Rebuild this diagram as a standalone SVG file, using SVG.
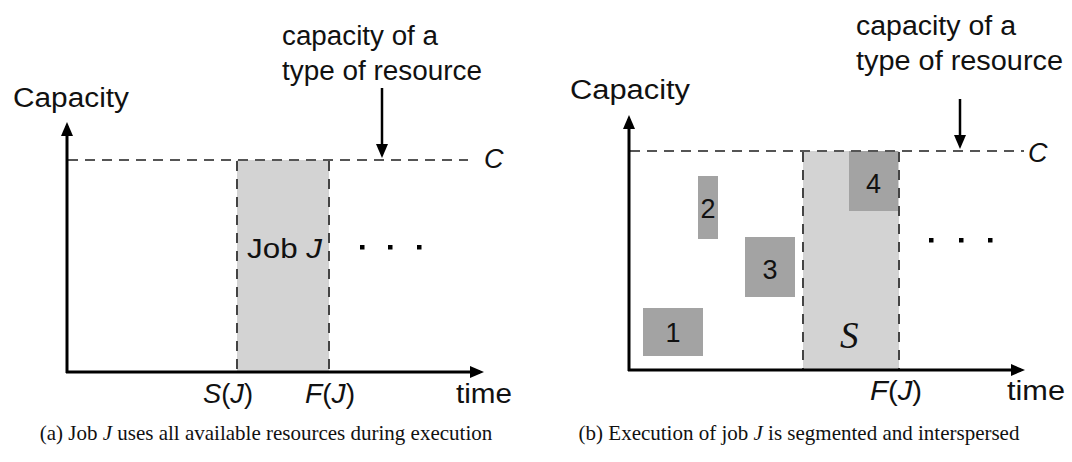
<svg xmlns="http://www.w3.org/2000/svg" width="1072" height="462" viewBox="0 0 1072 462">
  <style>
    .lbl { font-family: "Liberation Sans", Arial, sans-serif; font-size: 27px; fill: #111; }
    .it { font-style: italic; }
    .num { font-family: "Liberation Sans", Arial, sans-serif; font-size: 27px; fill: #111; text-anchor: middle; }
    .cap { font-family: "Liberation Serif", "Times New Roman", serif; font-size: 21px; fill: #111; text-anchor: middle; }
    .axis { stroke: #000; stroke-width: 3; fill: none; }
    .ptr { stroke: #000; stroke-width: 2.5; fill: none; }
    .limit { stroke: #555; stroke-width: 2; stroke-dasharray: 10 7; fill: none; }
    .edge { stroke: #444; stroke-width: 2; stroke-dasharray: 10 8; fill: none; }
    .job { fill: #d3d3d3; }
    .seg { fill: #a3a3a3; }
    .dot { fill: #000; }
  </style>
  <defs>
    <marker id="arr" markerWidth="14" markerHeight="12" refX="10" refY="6" orient="auto" markerUnits="userSpaceOnUse">
      <path d="M0,0 L14,6 L0,12 Z" fill="#000"/>
    </marker>
  </defs>

  <!-- Panel (a): job occupies the full capacity -->
  <g id="panel-a">
    <g id="a-job">
      <rect class="job" x="237" y="160" width="92" height="212"/>
      <line class="edge" x1="237" y1="161" x2="237" y2="372"/>
      <line class="edge" x1="329" y1="161" x2="329" y2="372"/>
      <text class="lbl" x="247" y="258" textLength="75" lengthAdjust="spacingAndGlyphs">Job <tspan class="it">J</tspan></text>
    </g>
    <g id="a-connectors">
      <line class="limit" x1="68" y1="160" x2="468" y2="160"/>
      <line class="axis" x1="67" y1="373" x2="67" y2="126" marker-end="url(#arr)"/>
      <line class="axis" x1="66" y1="372" x2="480" y2="372" marker-end="url(#arr)"/>
      <line class="ptr" x1="382" y1="88" x2="382" y2="154" marker-end="url(#arr)"/>
    </g>
    <g id="a-labels">
      <text class="lbl" x="13" y="107" textLength="116" lengthAdjust="spacingAndGlyphs">Capacity</text>
      <text class="lbl" x="282" y="45" textLength="156" lengthAdjust="spacingAndGlyphs">capacity of a</text>
      <text class="lbl" x="282" y="80" textLength="200" lengthAdjust="spacingAndGlyphs">type of resource</text>
      <text class="lbl it" x="484" y="168">C</text>
      <text class="lbl" x="203" y="403" textLength="50" lengthAdjust="spacingAndGlyphs"><tspan class="it">S</tspan>(<tspan class="it">J</tspan>)</text>
      <text class="lbl" x="305" y="403" textLength="50" lengthAdjust="spacingAndGlyphs"><tspan class="it">F</tspan>(<tspan class="it">J</tspan>)</text>
      <text class="lbl" x="456" y="403" textLength="56" lengthAdjust="spacingAndGlyphs">time</text>
    </g>
    <g id="a-more">
      <rect class="dot" x="360" y="245" width="4.5" height="4.5"/>
      <rect class="dot" x="388" y="245" width="4.5" height="4.5"/>
      <rect class="dot" x="417" y="245" width="4.5" height="4.5"/>
    </g>
    <text class="cap" x="266" y="440">(a) Job <tspan font-style="italic">J</tspan> uses all available resources during execution</text>
  </g>

  <!-- Panel (b): job split into segments between other work -->
  <g id="panel-b">
    <g id="b-job">
      <rect class="job" x="803" y="151" width="96" height="219"/>
      <line class="edge" x1="803" y1="152" x2="803" y2="370"/>
      <line class="edge" x1="899" y1="152" x2="899" y2="370"/>
      <text x="840" y="348" font-family="'Liberation Serif', 'Times New Roman', serif" font-style="italic" font-size="37" fill="#111">S</text>
    </g>
    <g id="seg-1">
      <rect class="seg" x="643" y="308" width="60" height="48"/>
      <text class="num" x="673" y="342">1</text>
    </g>
    <g id="seg-2">
      <rect class="seg" x="698" y="176" width="20" height="63"/>
      <text class="num" x="708" y="218">2</text>
    </g>
    <g id="seg-3">
      <rect class="seg" x="745" y="237" width="50" height="60"/>
      <text class="num" x="770" y="279">3</text>
    </g>
    <g id="seg-4">
      <rect class="seg" x="849" y="151" width="49" height="60"/>
      <text class="num" x="873.5" y="193">4</text>
    </g>
    <g id="b-connectors">
      <line class="limit" x1="630" y1="151" x2="1024" y2="151"/>
      <line class="axis" x1="629" y1="371" x2="629" y2="119" marker-end="url(#arr)"/>
      <line class="axis" x1="628" y1="370" x2="1021" y2="370" marker-end="url(#arr)"/>
      <line class="ptr" x1="960" y1="99" x2="960" y2="145" marker-end="url(#arr)"/>
    </g>
    <g id="b-labels">
      <text class="lbl" x="570" y="99" textLength="120" lengthAdjust="spacingAndGlyphs">Capacity</text>
      <text class="lbl" x="856" y="35" textLength="160" lengthAdjust="spacingAndGlyphs">capacity of a</text>
      <text class="lbl" x="856" y="70" textLength="207" lengthAdjust="spacingAndGlyphs">type of resource</text>
      <text class="lbl it" x="1028" y="162">C</text>
      <text class="lbl" x="870" y="400" textLength="52" lengthAdjust="spacingAndGlyphs"><tspan class="it">F</tspan>(<tspan class="it">J</tspan>)</text>
      <text class="lbl" x="1007" y="400" textLength="58" lengthAdjust="spacingAndGlyphs">time</text>
    </g>
    <g id="b-more">
      <rect class="dot" x="929" y="238" width="4.5" height="4.5"/>
      <rect class="dot" x="959" y="238" width="4.5" height="4.5"/>
      <rect class="dot" x="988" y="238" width="4.5" height="4.5"/>
    </g>
    <text class="cap" x="799" y="440">(b) Execution of job <tspan font-style="italic">J</tspan> is segmented and interspersed</text>
  </g>
</svg>
